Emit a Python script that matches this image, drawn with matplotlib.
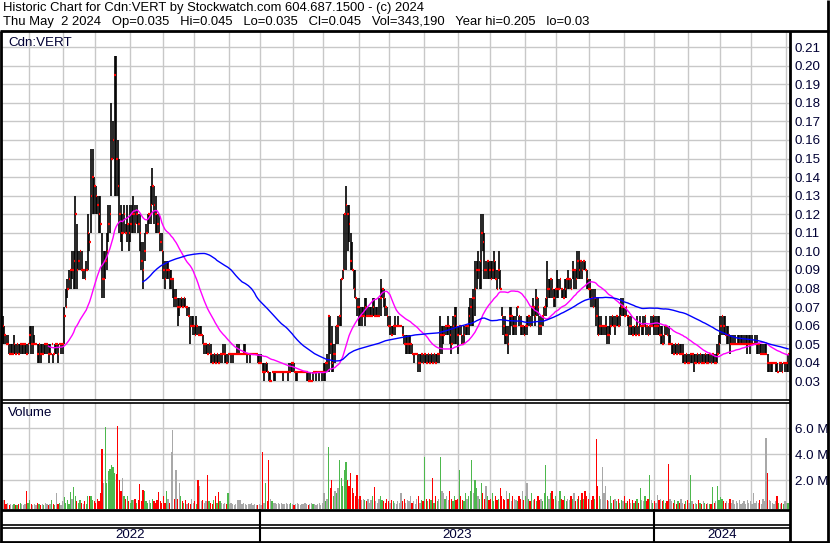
import numpy as np
import pandas as pd
import matplotlib
matplotlib.use("Agg")
import matplotlib.pyplot as plt
from matplotlib.lines import Line2D

plt.rcParams['font.family'] = ['Liberation Sans', 'DejaVu Sans']

# ---------------- data (prices in half-cent ticks of 0.005) ----------------
TICK = 0.005
hi_ticks = [
    13,12,11,11,10,10,10,11,10,10, 10,10,10,10,10,10,10,12,12,12,
    11,10,10,10,10,10,10,10,10,10, 10,10,9,10,10,10,10,10,10,14,
    16,17,18,18,20,20,26,23,20,20, 20,18,18,19,24,22,31,31,28,27,
    26,26,26,22,20,20,22,25,25,36, 34,41,41,32,30,25,24,25,23,25,
    23,25,25,26,25,25,24,24,21,21, 22,23,24,24,27,29,27,26,24,24,
    22,22,20,19,19,19,18,18,17,16, 16,15,15,15,15,15,15,14,14,13,
    13,13,12,13,12,12,12,11,10,10, 10,10,10,9,9,9,9,9,9,9,
    10,10,9,9,9,9,9,9,9,10, 10,9,9,10,10,9,9,9,9,9,
    9,9,9,9,9,8,8,8,8,7, 7,7,7,7,7,7,7,7,7,7,
    7,7,8,8,8,8,7,7,7,7, 7,7,7,7,7,7,6,7,7,7,
    7,7,7,7,8,8,9,13,13,12, 10,10,12,13,13,17,18,24,27,25,
    25,22,21,18,18,15,15,14,14,14, 15,15,14,14,14,15,15,14,14,15,
    17,16,16,15,14,13,13,12,12,13, 12,13,12,12,12,11,11,11,11,11,
    10,9,9,9,9,9,9,9,9,9, 9,9,9,9,9,9,9,9,13,12,
    12,12,12,13,12,12,13,14,14,12, 12,12,11,12,12,12,14,15,15,16,
    19,19,20,19,24,24,22,19,19,19, 19,19,20,19,18,20,18,14,13,13,
    12,12,14,14,13,13,13,14,13,13, 12,12,12,13,13,13,14,15,14,16,
    15,13,13,13,14,15,19,17,17,17, 16,16,18,17,17,16,16,17,17,18,
    17,17,19,18,18,20,20,19,19,19, 19,18,17,17,16,16,16,15,15,13,
    13,12,12,13,12,12,13,13,13,13, 13,13,14,15,15,14,14,13,13,13,
    12,12,12,13,12,13,12,13,13,12, 12,12,13,13,13,13,13,13,12,12,
    11,12,12,12,11,10,10,10,10,10, 10,10,10,9,9,9,9,9,9,9,
    9,9,9,9,9,9,9,9,9,9, 9,9,9,9,10,11,13,13,13,13,
    12,12,11,11,11,11,10,11,11,11, 11,11,11,11,11,11,11,10,11,11,
    10,10,10,10,10,10,9,8,8,8, 8,8,8,8,8,8,8,8,8,9,
]
lo_ticks = [
    10,10,10,10,9,9,9,9,9,9, 9,9,9,9,9,9,9,10,9,9,
    10,10,8,8,8,9,9,9,9,8, 9,10,8,9,9,8,10,9,9,10,
    14,15,16,16,17,16,16,16,18,18, 18,17,17,18,18,20,22,24,24,24,
    24,22,22,15,15,17,18,21,22,26, 30,26,26,26,22,21,20,22,22,21,
    20,21,22,22,22,23,22,20,18,16, 19,22,22,23,23,25,23,22,22,22,
    20,20,17,16,17,17,16,16,15,14, 14,12,13,14,14,14,14,13,13,10,
    12,11,11,11,11,11,11,10,9,9, 9,9,8,8,8,8,8,8,8,8,
    9,8,8,8,9,8,8,9,9,9, 9,9,9,9,9,8,9,8,9,9,
    9,9,8,8,8,7,6,7,7,6, 6,7,6,6,7,7,7,7,6,7,
    7,6,7,7,7,7,6,6,7,7, 7,7,7,6,6,6,6,6,7,6,
    7,6,7,6,6,6,7,7,9,7, 7,8,10,10,12,12,17,18,18,20,
    21,18,18,16,15,13,12,12,12,13, 12,13,13,13,13,13,13,13,13,13,
    13,15,14,13,13,12,11,11,11,11, 12,12,12,12,11,10,9,9,9,9,
    9,8,9,9,7,7,8,8,8,8, 8,8,8,8,8,8,8,8,9,9,
    10,11,11,11,10,9,10,10,10,9, 11,11,10,10,11,11,11,12,12,12,
    13,16,17,16,16,20,17,17,17,17, 17,17,17,17,16,17,16,13,11,10,
    10,9,11,12,11,11,11,13,12,11, 11,11,11,11,12,12,12,13,12,13,
    13,11,11,12,13,13,14,15,15,15, 14,14,15,15,16,15,15,15,15,16,
    16,16,17,16,16,17,17,17,17,18, 18,16,16,15,14,14,14,12,11,11,
    11,11,11,11,10,10,11,12,12,11, 12,12,12,13,13,13,13,12,11,11,
    11,11,11,11,11,12,11,11,12,11, 11,11,12,12,11,11,11,11,10,10,
    10,11,11,10,10,9,9,9,9,9, 9,9,8,8,8,8,8,8,8,7,
    8,8,8,8,8,8,8,8,8,8, 8,8,8,8,8,9,10,11,11,11,
    10,10,9,10,10,10,10,10,10,10, 10,10,10,9,10,9,10,10,10,9,
    9,9,9,9,9,9,7,7,7,7, 8,7,7,8,7,7,8,7,7,7,
]
cl_ticks = [
    12,11,10,10,9,9,9,10,9,10, 9,10,10,10,10,9,10,11,10,10,
    10,10,9,10,9,9,10,10,10,9, 9,10,9,10,10,9,10,10,10,13,
    14,16,17,18,18,19,24,18,19,20, 18,18,17,18,22,21,26,28,27,26,
    25,24,23,17,17,19,20,23,24,30, 32,39,30,27,24,22,22,24,22,23,
    22,23,24,24,23,24,23,22,19,18, 20,22,24,24,25,27,25,24,23,22,
    21,20,18,17,18,18,17,17,17,15, 15,14,14,15,14,15,14,14,13,12,
    12,12,11,12,11,11,11,10,10,10, 9,10,9,8,9,8,9,8,9,9,
    9,9,8,9,9,9,9,9,9,9, 9,9,9,9,9,9,9,9,9,9,
    9,9,8,8,8,7,7,8,7,6, 6,7,7,7,7,7,7,7,7,7,
    7,7,7,8,8,7,7,7,7,7, 7,7,7,7,6,6,6,7,7,7,
    7,7,7,7,7,8,8,13,10,8, 9,9,12,12,13,17,18,24,25,24,
    23,19,18,16,15,14,14,13,13,13, 14,13,13,13,13,14,13,13,13,13,
    15,16,15,14,13,12,12,11,12,12, 12,12,12,12,11,10,10,10,10,10,
    9,9,9,9,8,8,9,8,9,8, 9,8,9,8,9,8,9,9,11,11,
    11,12,12,12,11,10,12,13,12,11, 12,11,10,11,12,12,13,14,15,15,
    16,18,18,19,22,21,18,18,19,18, 17,18,19,17,16,18,16,13,12,11,
    11,10,13,13,12,12,12,14,13,12, 12,11,12,12,13,12,14,14,13,15,
    14,12,12,13,14,15,16,16,17,16, 15,16,16,16,17,16,15,16,17,17,
    17,16,18,18,17,19,18,19,18,19, 18,17,16,16,15,14,15,13,11,12,
    12,12,12,12,11,11,12,13,12,12, 13,12,13,14,14,13,14,13,12,12,
    11,12,11,12,11,12,12,12,13,12, 11,12,12,13,12,12,12,11,11,10,
    11,12,11,10,10,10,9,10,9,10, 9,9,9,8,9,8,8,9,9,8,
    8,9,8,9,8,8,9,8,8,9, 8,9,8,8,9,10,12,13,12,11,
    11,11,10,10,10,10,10,10,10,10, 10,10,10,10,10,10,10,10,10,10,
    10,9,9,9,9,9,8,8,8,8, 8,8,7,8,8,7,8,8,8,9,
]
# daily volume in units of 100,000 shares
vol_100k = [
    5,5,2,3,1,2,1,2,1,1, 2,3,2,1,2,12,3,5,2,1,
    2,1,3,2,1,2,1,3,2,1, 2,5,2,1,10,2,3,1,4,7,
    3,5,2,11,6,15,8,4,3,5, 3,2,4,2,8,8,8,5,4,3,
    6,4,10,44,18,61,18,27,29,32, 30,26,25,62,20,12,22,8,6,8,
    4,3,5,5,6,3,5,17,4,13, 12,4,3,5,3,6,4,3,5,11,
    4,3,8,3,12,6,3,42,59,6, 28,6,18,8,4,3,5,2,3,2,
    6,3,4,2,20,16,4,5,3,4, 24,4,3,2,5,8,3,11,4,3,
    2,3,2,10,2,3,2,1,2,5, 5,5,2,3,2,1,2,2,3,1,
    2,1,1,2,1,42,3,18,4,36, 6,4,3,3,2,3,2,3,2,2,
    3,2,2,3,2,1,2,3,2,1, 2,2,3,2,1,2,3,2,2,1,
    2,3,1,3,10,4,6,46,14,20, 8,12,10,14,36,22,16,28,34,20,
    16,26,14,10,8,24,6,8,5,6, 5,4,6,3,5,8,15,4,3,6,
    8,5,4,3,6,4,3,5,4,3, 2,4,3,10,4,6,3,5,4,8,
    3,4,2,6,8,3,5,4,38,6, 4,6,5,22,3,8,4,6,38,12,
    10,6,8,5,12,6,4,8,5,6, 28,8,5,4,10,6,8,12,36,10,
    20,14,8,6,18,10,6,16,8,5, 6,10,4,8,5,6,14,8,6,5,
    12,6,10,4,8,6,5,4,8,6, 12,5,8,18,6,4,10,5,6,4,
    8,5,6,4,10,32,8,6,10,12, 6,8,5,4,12,6,5,8,4,6,
    5,8,6,10,4,6,8,5,10,6, 12,8,6,10,5,8,6,52,16,8,
    6,30,10,16,5,4,8,3,5,6, 4,6,3,5,4,8,3,4,6,3,
    5,3,4,6,3,14,5,4,8,4, 6,24,5,3,4,3,9,5,6,4,
    5,3,4,33,6,4,3,5,2,4, 3,6,3,2,4,5,3,24,4,2,
    3,2,5,3,2,4,3,2,3,2, 2,15,3,4,16,5,7,6,4,3,
    4,3,6,3,5,2,4,3,5,2, 3,4,2,5,3,4,2,10,3,4,
    3,5,2,6,4,53,26,5,4,3, 2,4,8,3,2,3,2,4,3,3,
]

title_line1 = "Historic Chart for Cdn:VERT by Stockwatch.com 604.687.1500 - (c) 2024"
title_line2 = ("Thu May  2 2024   Op=0.035   Hi=0.045   Lo=0.035   Cl=0.045   "
               "Vol=343,190   Year hi=0.205   lo=0.03")
symbol_label = "Cdn:VERT"
volume_label = "Volume"
price_ticks = [0.03, 0.04, 0.05, 0.06, 0.07, 0.08, 0.09, 0.10, 0.11, 0.12,
               0.13, 0.14, 0.15, 0.16, 0.17, 0.18, 0.19, 0.20, 0.21]
vol_ticks = [2.0e6, 4.0e6, 6.0e6]
vol_tick_labels = ["2.0 M", "4.0 M", "6.0 M"]
ma_windows = [30, 90]
end_date = "2024-05-02"
holidays = ["2022-05-23", "2022-07-01", "2022-08-01", "2022-09-05", "2022-10-10",
            "2022-12-26", "2022-12-27", "2023-01-02", "2023-02-20", "2023-04-07",
            "2023-05-22", "2023-07-03", "2023-08-07", "2023-09-04", "2023-10-09",
            "2023-12-25", "2023-12-26", "2024-01-01", "2024-02-19", "2024-03-29"]

# ---------------- derived series ----------------
hi = np.array(hi_ticks) * TICK
lo = np.array(lo_ticks) * TICK
cl = np.array(cl_ticks) * TICK
vol = np.array(vol_100k) * 1e5
N = len(cl)
x = np.arange(N)

days = pd.bdate_range("2022-01-01", end_date)
days = days[~days.isin(pd.to_datetime(holidays))]
dates = days[-N:]
month_start = [i for i in range(1, N) if dates[i].month != dates[i - 1].month]
year_start = [i for i in range(1, N) if dates[i].year != dates[i - 1].year]
month_pos = [i - 0.5 for i in month_start]
year_pos = [i - 0.5 for i in year_start]

chg = np.diff(cl, prepend=cl[0])
vcolors = np.where(chg > 1e-9, '#4DB84D', np.where(chg < -1e-9, '#FF0000', '#A8A8A8'))

ma_fast = pd.Series(cl).rolling(ma_windows[0]).mean()
ma_slow = pd.Series(cl).rolling(ma_windows[1]).mean()

# ---------------- layout ----------------
W, H = 830, 543
fig = plt.figure(figsize=(W / 100, H / 100), dpi=100)
fig.patch.set_facecolor('white')


def box(x0, y0, x1, y1):
    return [x0 / W, 1 - y1 / H, (x1 - x0) / W, (y1 - y0) / H]


def pline(x0, y0, x1, y1, lw=1.0, color='black'):
    fig.add_artist(Line2D([x0 / W, x1 / W], [1 - y0 / H, 1 - y1 / H],
                          transform=fig.transFigure, color=color, lw=lw,
                          solid_capstyle='butt'))


GRID = '#C8C8C8'
NAVY = '#000033'
LABEL_FS = 9.6
XMIN, XMAX = -1.2, N + 0.2

# price panel
axp = fig.add_axes(box(1, 32, 790, 400))
axp.set_xlim(XMIN, XMAX)
axp.set_ylim(0.03 - 18.5 / 1856, 0.21 + 15 / 1856)
axp.set_yticks(price_ticks)
axp.set_yticklabels([f"{v:.2f}" for v in price_ticks])
axp.yaxis.tick_right()
axp.tick_params(axis='y', length=0, pad=3.5, labelsize=LABEL_FS, labelcolor=NAVY)
axp.set_xticks(month_pos)
axp.tick_params(axis='x', length=0, labelbottom=False)
axp.grid(True, color=GRID, lw=1.0)
axp.set_axisbelow(True)
for s in axp.spines.values():
    s.set_visible(False)
axp.vlines(x, lo, hi, colors='black', lw=1.2, zorder=2)
axp.hlines(cl, x - 0.1, x + 0.9, colors='red', lw=1.6, zorder=3)
axp.plot(x, ma_fast, color='#FF00FF', lw=1.0, zorder=4)
axp.plot(x, ma_slow, color='#0000FF', lw=1.0, zorder=4)
axp.text(7 / 789, 1 - 11 / 368, symbol_label, transform=axp.transAxes,
         fontsize=LABEL_FS, color=NAVY, va='center', ha='left')

# volume panel
axv = fig.add_axes(box(1, 403, 790, 509))
axv.set_xlim(XMIN, XMAX)
vbot = -0.2e6
axv.set_ylim(vbot, vbot + 106 / 13.0 * 1e6)
axv.set_yticks(vol_ticks)
axv.set_yticklabels(vol_tick_labels)
axv.yaxis.tick_right()
axv.tick_params(axis='y', length=0, pad=3.5, labelsize=LABEL_FS, labelcolor=NAVY)
axv.set_xticks(month_pos)
axv.tick_params(axis='x', length=0, labelbottom=False)
axv.grid(True, color=GRID, lw=1.0)
axv.set_axisbelow(True)
for s in axv.spines.values():
    s.set_visible(False)
axv.bar(x, vol - vbot, bottom=vbot, width=0.8, color=vcolors, zorder=2)
axv.text(7 / 789, 1 - 10 / 106, volume_label, transform=axv.transAxes,
         fontsize=LABEL_FS, color=NAVY, va='center', ha='left')

# date strip
axd = fig.add_axes(box(1, 509, 790, 542))
axd.set_xlim(XMIN, XMAX)
axd.set_ylim(0, 1)
axd.axis('off')
for p in year_pos:
    axd.axvline(p, color='black', lw=1.5)
bounds = [XMIN] + year_pos + [XMAX]
for k in range(len(bounds) - 1):
    yr = dates[min(max(int(np.ceil(bounds[k])), 0), N - 1)].year
    axd.text((bounds[k] + bounds[k + 1]) / 2, 0.22, str(yr), ha='center',
             va='center', fontsize=LABEL_FS, color=NAVY)

# title
fig.text(3 / W, 1 - 8 / H, title_line1, fontsize=9.4, va='center', ha='left', color='black')
fig.text(3 / W, 1 - 21.5 / H, title_line2, fontsize=9.4, va='center', ha='left', color='black')

# frame lines
pline(0, 31, 829, 31, lw=2)
pline(1, 31, 1, 543, lw=2)
pline(828, 0, 828, 543, lw=2)
pline(790, 31, 790, 543, lw=2)
pline(1, 400, 790, 400, lw=1.2)
pline(1, 402.5, 790, 402.5, lw=1.2)
pline(1, 509.5, 790, 509.5, lw=2)
pline(1, 525, 790, 525, lw=1.2)
pline(1, 527.5, 790, 527.5, lw=1.2)
pline(0, 542, 829, 542, lw=2)

fig.savefig("out.png", dpi=100, facecolor='white')
